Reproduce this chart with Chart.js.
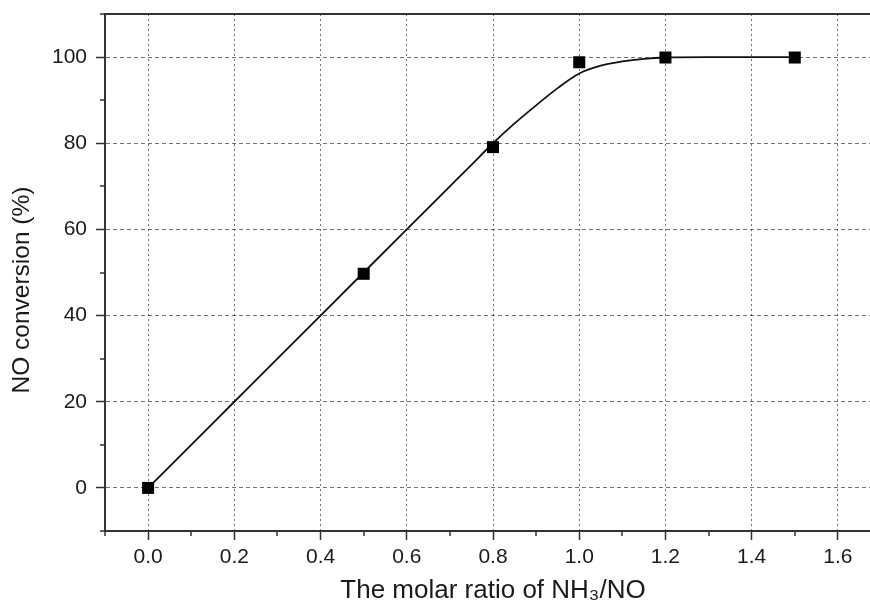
<!DOCTYPE html>
<html>
<head>
<meta charset="utf-8">
<script src="https://cdn.jsdelivr.net/npm/chart.js@4.4.1/dist/chart.umd.min.js"></script>
<style>
  html, body { margin: 0; padding: 0; background: #fff; overflow: hidden; }
  canvas { display: block; }
</style>
</head>
<body>
<canvas id="chart" width="890" height="607"></canvas>
<script>
// measured points
const ratio = [0, 0.5, 0.8, 1.0, 1.2, 1.5];
const conversion = [0, 49.7, 79.1, 98.8, 99.9, 99.9];

// fitted curve
const fitRatio = [0, 0.1, 0.2, 0.3, 0.4, 0.5, 0.6, 0.7, 0.75, 0.8, 0.85, 0.9, 0.95, 1.0, 1.05, 1.1, 1.15, 1.2, 1.3, 1.4, 1.5];
const fitConversion = [0, 10, 20, 30, 40, 50, 60, 70, 75, 80, 84.6, 88.8, 92.8, 96.2, 98.0, 99.0, 99.6, 99.9, 100, 100, 100];

// axes
const xTicks = [0, 0.2, 0.4, 0.6, 0.8, 1.0, 1.2, 1.4, 1.6];
const xTickLabels = ['0.0', '0.2', '0.4', '0.6', '0.8', '1.0', '1.2', '1.4', '1.6'];
const xMinorTicks = [-0.1, 0.1, 0.3, 0.5, 0.7, 0.9, 1.1, 1.3, 1.5];
const yTicks = [0, 20, 40, 60, 80, 100];
const yTickLabels = ['0', '20', '40', '60', '80', '100'];
const yMinorTicks = [-10, 10, 30, 50, 70, 90, 110];

Chart.defaults.font.family = '"Liberation Sans", Arial, sans-serif';
Chart.defaults.color = '#1a1a1a';

// top spine, minor ticks and the y title
const frame = {
    id: 'frame',
    afterDraw(chart) {
        const ctx = chart.ctx;
        const a = chart.chartArea;
        const xs = chart.scales.x;
        const ys = chart.scales.y;
        ctx.save();
        ctx.strokeStyle = '#333';
        ctx.lineWidth = 2;
        ctx.beginPath();
        ctx.moveTo(a.left - 1, a.top);
        ctx.lineTo(a.right, a.top);
        ctx.stroke();

        ctx.lineWidth = 1.5;
        ctx.beginPath();
        xMinorTicks.forEach(v => {
            const px = Math.round(xs.getPixelForValue(v));
            ctx.moveTo(px, a.bottom);
            ctx.lineTo(px, a.bottom + 5);
        });
        yMinorTicks.forEach(v => {
            const py = Math.round(ys.getPixelForValue(v));
            ctx.moveTo(a.left, py);
            ctx.lineTo(a.left - 5, py);
        });
        ctx.stroke();

        ctx.translate(22, 290);
        ctx.rotate(-Math.PI / 2);
        ctx.font = '24.5px "Liberation Sans", Arial, sans-serif';
        ctx.fillStyle = '#1a1a1a';
        ctx.textAlign = 'center';
        ctx.textBaseline = 'middle';
        ctx.fillText('NO conversion (%)', 0, 0);
        ctx.restore();
    }
};

const ctx = document.getElementById('chart').getContext('2d');
new Chart(ctx, {
    type: 'scatter',
    data: {
        datasets: [{
            label: 'data',
            data: ratio.map((x, i) => ({ x: x, y: conversion[i] })),
            pointStyle: 'rect',
            pointRadius: 8.5,
            pointBorderWidth: 0,
            backgroundColor: '#000',
            borderColor: '#000'
        }, {
            label: 'fit',
            data: fitRatio.map((x, i) => ({ x: x, y: fitConversion[i] })),
            showLine: true,
            cubicInterpolationMode: 'monotone',
            pointRadius: 0,
            borderColor: '#111',
            borderWidth: 1.8
        }]
    },
    options: {
        responsive: false,
        animation: false,
        layout: { padding: { top: 14, right: 9, left: 0, bottom: 0 } },
        plugins: { legend: { display: false }, tooltip: { enabled: false } },
        scales: {
            x: {
                type: 'linear',
                min: -0.1,
                max: 1.7,
                afterBuildTicks: s => { s.ticks = xTicks.map(v => ({ value: v })); },
                afterFit: s => { s.height = 76; s.paddingLeft = 0; s.paddingRight = 0; },
                ticks: {
                    callback: (v, i) => xTickLabels[i],
                    padding: 5,
                    maxRotation: 0,
                    autoSkip: false,
                    font: { size: 21 }
                },
                grid: { color: 'rgba(0,0,0,0.55)', lineWidth: 1, tickLength: 9, tickColor: '#333', tickWidth: 1.5 },
                border: { color: '#333', width: 2, dash: [2, 3] },
                title: {
                    display: true,
                    text: 'The molar ratio of NH₃/NO',
                    font: { size: 26 },
                    padding: { top: 0, bottom: 1 }
                }
            },
            y: {
                type: 'linear',
                min: -10,
                max: 110,
                afterBuildTicks: s => { s.ticks = yTicks.map(v => ({ value: v })); },
                afterFit: s => { s.width = 105; s.paddingTop = 0; s.paddingBottom = 0; },
                ticks: {
                    callback: (v, i) => yTickLabels[i],
                    padding: 9,
                    autoSkip: false,
                    font: { size: 21 }
                },
                grid: { color: 'rgba(0,0,0,0.55)', lineWidth: 1, tickLength: 9, tickColor: '#333', tickWidth: 1.5 },
                border: { color: '#333', width: 2, dash: [4, 3] }
            }
        }
    },
    plugins: [frame]
});
</script>
</body>
</html>
